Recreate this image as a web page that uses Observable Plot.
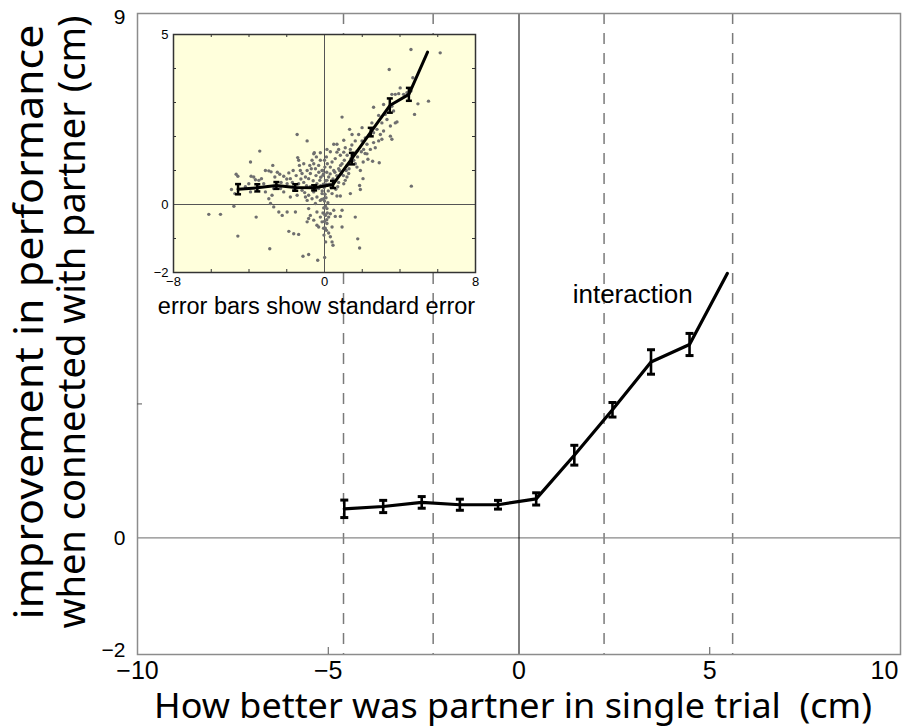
<!DOCTYPE html>
<html><head><meta charset="utf-8">
<script src="https://cdn.jsdelivr.net/npm/d3@7"></script>
<script src="https://cdn.jsdelivr.net/npm/@observablehq/plot@0.6"></script>
<style>
html,body{margin:0;padding:0;background:#fff;}
#wrap{position:relative;width:911px;height:727px;overflow:hidden;}
#inset{position:absolute;left:140px;top:20px;}
</style></head><body><div id="wrap"><div id="main"></div><div id="inset"></div></div>
<script>
// ---- data ----
const xBins = [-4.58, -3.56, -2.55, -1.55, -0.55, 0.45, 1.45, 2.45, 3.46, 4.47, 5.46];
const mainMean = [0.50, 0.54, 0.61, 0.57, 0.57, 0.67, 1.42, 2.20, 3.02, 3.32, 4.54];
const insetMean = [0.45, 0.49, 0.56, 0.50, 0.49, 0.59, 1.35, 2.13, 2.91, 3.24, 4.48];
const stdErr = [0.15, 0.105, 0.10, 0.095, 0.075, 0.105, 0.17, 0.125, 0.21, 0.19, null];
const dashX = [-4.6, -2.25, 2.23, 5.6];
const mainXTicks = [-10, -5, 0, 5];
const mainXLastTick = [10];
const mainYTop = [9];
const mainYZero = [0];
const mainYBottom = [-2];
const mainYMinor = [2.3];
const mainXMinor = [-5, 5];
const insetXTicks = [-8, 0, 8];
const insetYTicks = [-2, 0, 5];
const insetXMinor = [-6, -4, -2, 2, 4, 6];
const insetYMinor = [-1, 1, 2, 3, 4];
const annotations = [{label: "interaction", x: 2.98, y: 4.17}];
const xLabel = "How better was partner in single trial  (cm)";
const yLabel1 = "improvement in performance";
const yLabel2 = "when connected with partner (cm)";
const insetCaption = "error bars show standard error";
const scatterPts = [
[-3.43,1.57],[-3.92,1.25],[-2.74,1.15],[-3.13,1.00],[-2.95,0.99],[-2.83,0.96],[-4.68,0.89],[-4.59,0.83],[-3.89,0.83],[-3.75,0.81],
[-3.66,0.73],[-3.48,0.71],[-3.34,0.76],[-2.63,0.81],[-2.37,0.89],[-2.16,0.83],[-1.89,0.93],[-1.81,0.76],[-1.66,1.00],[-1.42,1.38],
[-1.37,1.30],[-1.33,1.15],[-1.28,1.00],[-1.19,0.91],[-1.10,1.20],[-1.01,0.81],[-0.92,1.00],[-0.84,0.76],[-0.78,1.15],[-0.75,0.91],
[-0.66,1.30],[-0.57,1.20],[-0.48,1.05],[-0.57,1.49],[-0.43,1.40],[-0.31,1.15],[-0.22,1.30],[-0.13,1.00],[-0.08,0.86],[-0.25,0.71],
[-0.40,0.61],[-4.93,0.44],[-4.75,0.32],[-3.92,0.37],[-4.19,0.52],[-4.01,0.61],[-3.22,0.61],[-3.13,0.37],[-2.95,0.17],[-2.78,0.27],
[-2.69,0.47],[-2.33,0.47],[-2.16,0.37],[-1.98,0.61],[-1.81,0.22],[-1.63,0.42],[-1.45,0.27],[-1.37,0.61],[-1.19,0.42],[-1.01,0.22],
[-0.92,0.12],[-0.84,0.27],[-0.75,0.52],[-0.66,0.17],[-0.57,0.37],[-0.48,0.03],[-0.40,0.22],[-0.31,0.47],[-0.22,0.12],[-0.13,0.32],
[-0.04,0.17],[-6.13,-0.29],[-5.51,-0.29],[-4.80,-0.05],[-3.62,-0.37],[-2.86,0.03],[-2.69,-0.07],[-2.42,-0.22],[-2.24,-0.32],[-1.98,-0.22],
[-1.54,-0.22],[-0.84,-0.12],[-0.75,-0.32],[-0.57,-0.46],[-0.40,-0.22],[-0.22,-0.37],[-0.13,-0.51],[-0.92,-0.51],[-0.84,-0.41],[-4.59,-0.93],
[-1.89,-0.79],[-1.63,-0.86],[-1.37,-0.88],[-2.90,-1.30],[-1.14,-1.52],[-0.84,-1.47],[-0.36,-1.64],[0.01,-1.56],[-0.40,-0.61],[-0.31,-0.66],
[4.60,0.54],[2.04,0.76],[1.86,0.56],[1.90,0.44],[1.37,0.32],[0.84,0.25],[0.66,0.25],[0.40,0.32],[0.70,0.52],[1.10,0.71],
[1.19,0.81],[1.28,0.91],[1.02,0.61],[2.30,1.33],[2.55,1.27],[2.90,1.23],[2.25,1.49],[1.72,1.10],[1.63,1.20],[1.90,1.00],
[0.93,1.20],[0.75,1.05],[0.49,1.00],[0.31,1.10],[0.22,0.81],[0.13,0.71],[0.57,1.35],[0.84,1.45],[1.02,1.54],[0.66,1.54],
[0.40,1.25],[0.49,-0.17],[0.93,-0.17],[0.57,-0.35],[0.84,-0.35],[0.31,-0.27],[0.13,-0.12],[0.22,-0.37],[0.05,-0.32],[1.63,-0.37],
[0.40,-0.66],[0.93,-0.66],[0.22,-0.84],[0.31,-0.95],[0.40,-1.10],[0.45,-1.20],[1.76,-1.01],[1.86,-1.28],[0.13,-0.56],[0.10,-0.76],
[4.58,4.56],[6.13,4.46],[3.43,3.97],[4.68,3.73],[4.01,3.43],[3.57,3.24],[3.75,3.24],[3.93,3.26],[4.19,3.24],[4.37,3.29],
[4.58,3.34],[4.95,2.96],[5.51,3.04],[4.77,2.65],[2.60,2.86],[3.13,2.94],[3.57,2.89],[3.66,2.75],[3.22,2.65],[3.31,2.50],
[0.93,2.57],[2.87,2.62],[3.04,2.40],[3.75,2.40],[3.49,2.31],[3.84,2.43],[1.99,2.26],[2.51,2.40],[2.60,2.11],[2.78,2.21],
[2.43,2.06],[2.16,1.96],[1.81,2.06],[1.33,2.21],[1.46,2.06],[1.02,1.89],[0.49,1.77],[0.66,1.77],[0.13,1.62],[0.31,1.55],
[0.75,1.62],[1.10,1.67],[1.37,1.62],[1.63,1.87],[1.99,1.87],[2.25,1.77],[2.60,1.82],[2.87,1.87],[3.04,1.92],[2.43,1.62],
[2.69,1.67],[2.07,1.62],[1.72,1.57],[3.49,2.01],[3.57,1.92],[3.13,2.16],[2.96,2.06],[-1.45,2.06],[-0.92,1.87],[-0.54,1.52],
[-0.22,1.52],[0.00,1.30],[0.02,1.10],[-0.05,0.90],[0.05,0.70],[-0.02,0.50],[0.03,0.30],[0.00,0.10],[-0.04,-0.10],[0.02,-0.30],
[0.00,-0.50],[0.04,-0.70],[-0.03,-0.90],[0.06,-1.10],[-0.10,1.00],[0.10,0.60],[0.08,0.20],[-0.12,0.40],[0.15,1.20],[0.20,0.40],
[0.25,0.60],[-0.20,0.80],[0.30,0.90],[0.35,0.50],[0.45,0.75],[0.55,0.95],[0.65,0.85],[0.80,1.00],[0.90,0.90],[1.05,1.30],
[1.20,1.15],[1.40,1.35],[1.50,1.50],[1.30,1.05],[-0.06,0.60],[0.12,0.95],[-0.15,0.15],[0.18,0.05],[0.05,-0.05],[-0.08,-0.25],
[0.12,-0.45],[-0.05,-0.70],[0.15,-0.25],[0.10,1.40],[-0.30,0.95],[-0.45,0.85],[-0.60,0.70],[-0.70,1.05],[-0.95,0.55],[-1.10,0.65],
[-1.25,0.75],[-1.50,0.85],[-1.70,0.65],[-2.00,0.75],[-2.30,0.65],[-2.50,0.95],[-1.05,0.35],[-0.55,0.55],[-0.20,0.55],[0.60,0.45],
[0.75,0.65],[1.00,0.85],[1.15,1.00],[0.85,1.15],[1.55,1.30],[1.75,1.40],[1.95,1.55],[2.15,1.50],[2.05,1.25],[1.45,1.75],[1.20,1.45]
];

// ---- derived tables ----
const mainRows = xBins.map((x, i) => ({x, y: mainMean[i], e: stdErr[i]}));
const insetRows = xBins.map((x, i) => ({x, y: insetMean[i], e: stdErr[i]}));
const errOf = rows => rows.filter(d => d.e != null);
const capsOf = rows => errOf(rows).flatMap(d => [{x: d.x, y: d.y - d.e}, {x: d.x, y: d.y + d.e}]);
const capSymbol = w => ({draw(ctx) { ctx.moveTo(-w, 0); ctx.lineTo(w, 0); }});
const fmt = d3.format("d");
const sans = "'Liberation Sans', Arial, sans-serif";
const human = "'Noto Sans', 'Open Sans', sans-serif";
const yAx = (ticks, dy) => Plot.axisY({ticks, tickSize: 0, tickPadding: 12, fontSize: 21, fontFamily: sans, tickFormat: fmt, label: null, dy});

// main frame: 137..900 x 13..654
const MW = 763, MH = 641;
const main = Plot.plot({
  width: 911, height: 727,
  marginLeft: 137, marginRight: 11, marginTop: 13, marginBottom: 73,
  style: {background: "#fff", overflow: "visible", fontFamily: sans},
  x: {domain: [-10, 10]},
  y: {domain: [-2, 9]},
  marks: [
    Plot.ruleX(dashX, {stroke: "#7a7a7a", strokeWidth: 1.5, strokeDasharray: "11,9"}),
    Plot.ruleY([0], {stroke: "#888", strokeWidth: 1.3}),
    Plot.ruleX([0], {stroke: "#000", strokeWidth: 1}),
    Plot.frame({stroke: "#8c8c8c", strokeWidth: 1.5}),
    Plot.ruleY(mainYMinor, {stroke: "#555", insetRight: MW - 5}),
    Plot.ruleX(mainXMinor, {stroke: "#555", insetTop: MH - 7}),
    yAx(mainYTop, 4),
    yAx(mainYZero, 0),
    yAx(mainYBottom, -4),
    Plot.axisX({ticks: mainXTicks, tickSize: 0, tickPadding: 7, fontSize: 25, fontFamily: sans, tickFormat: fmt, label: null}),
    Plot.axisX({ticks: mainXLastTick, tickSize: 0, tickPadding: 7, fontSize: 25, fontFamily: sans, tickFormat: fmt, label: null, dx: -16}),
    Plot.line(mainRows, {x: "x", y: "y", stroke: "#000", strokeWidth: 3.2}),
    Plot.ruleX(errOf(mainRows), {x: "x", y1: d => d.y - d.e, y2: d => d.y + d.e, stroke: "#000", strokeWidth: 2.6}),
    Plot.dot(capsOf(mainRows), {x: "x", y: "y", symbol: capSymbol(4), stroke: "#000", strokeWidth: 3, fill: "none"}),
    Plot.text(annotations, {x: "x", y: "y", text: "label", fontSize: 26, fontFamily: sans, fill: "#000"}),
    Plot.text([xLabel], {frameAnchor: "bottom", textAnchor: "middle", lineAnchor: "middle", dx: -6, dy: 52, text: d => d, fontSize: 35, fontFamily: human, fill: "#000"}),
    Plot.text([yLabel1], {frameAnchor: "left", textAnchor: "middle", lineAnchor: "middle", rotate: -90, dx: -107, dy: -12, text: d => d, fontSize: 40, fontFamily: human, fill: "#000"}),
    Plot.text([yLabel2], {frameAnchor: "left", textAnchor: "middle", lineAnchor: "middle", rotate: -90, dx: -65, dy: -12, text: d => d, fontSize: 38.5, fontFamily: human, fill: "#000"})
  ]
});
for (const t of main.querySelectorAll("text")) {
  const s = t.textContent;
  const L = s === xLabel ? 718 : s === yLabel1 ? 595 : s === yLabel2 ? 613 : null;
  if (L) { t.setAttribute("textLength", L); t.setAttribute("lengthAdjust", "spacingAndGlyphs"); }
}
document.getElementById("main").appendChild(main);

// inset frame: 302 x 238
const IW = 302, IH = 238;
const inset = Plot.plot({
  width: 350, height: 305,
  marginLeft: 33, marginRight: 15, marginTop: 14, marginBottom: 53,
  style: {background: "transparent", overflow: "visible", fontFamily: sans},
  x: {domain: [-8, 8]},
  y: {domain: [-2, 5]},
  marks: [
    Plot.frame({fill: "#ffffdc", stroke: "none"}),
    Plot.ruleX([0], {stroke: "#555", strokeWidth: 1}),
    Plot.ruleY([0], {stroke: "#555", strokeWidth: 1}),
    Plot.dot(scatterPts, {x: d => d[0], y: d => d[1], r: 1.7, fill: "#6f6f6f", stroke: "none"}),
    Plot.line(insetRows, {x: "x", y: "y", stroke: "#000", strokeWidth: 3}),
    Plot.ruleX(errOf(insetRows), {x: "x", y1: d => d.y - d.e, y2: d => d.y + d.e, stroke: "#000", strokeWidth: 2.5}),
    Plot.dot(capsOf(insetRows), {x: "x", y: "y", symbol: capSymbol(3), stroke: "#000", strokeWidth: 2.5, fill: "none"}),
    Plot.ruleX(insetXMinor, {stroke: "#333", insetTop: IH - 3}),
    Plot.ruleX(insetXMinor, {stroke: "#333", insetBottom: IH - 3}),
    Plot.ruleY(insetYMinor, {stroke: "#333", insetRight: IW - 3}),
    Plot.ruleY(insetYMinor, {stroke: "#333", insetLeft: IW - 3}),
    Plot.frame({stroke: "#333", strokeWidth: 1.5}),
    Plot.axisX({ticks: insetXTicks, tickSize: 0, tickPadding: 4, fontSize: 13, fontFamily: sans, tickFormat: fmt, label: null}),
    Plot.axisY({ticks: insetYTicks, tickSize: 0, tickPadding: 5, fontSize: 13, fontFamily: sans, tickFormat: fmt, label: null}),
    Plot.text([insetCaption], {frameAnchor: "bottom", textAnchor: "middle", lineAnchor: "bottom", dx: -8, dy: 41, text: d => d, fontSize: 23.5, fontFamily: sans, fill: "#000"})
  ]
});
document.getElementById("inset").appendChild(inset);
</script></body></html>
